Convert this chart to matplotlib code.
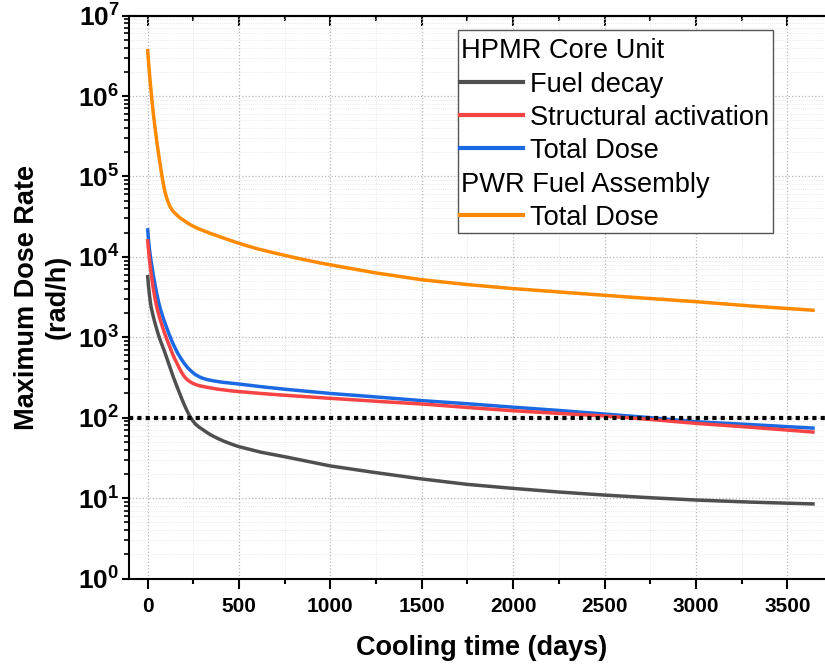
import math
import matplotlib
matplotlib.use("Agg")
import matplotlib.pyplot as plt
from matplotlib.ticker import MultipleLocator, LogLocator, FuncFormatter, NullFormatter
from matplotlib.patches import Rectangle
from matplotlib.lines import Line2D

# ── Fonts ──────────────────────────────────────────────────────────────────────
plt.rcParams.update({
    "font.family":      ["Liberation Sans", "DejaVu Sans"],
    "mathtext.fontset": "custom",
    "mathtext.rm":      "Liberation Sans:bold",
    "mathtext.bf":      "Liberation Sans:bold",
    "mathtext.it":      "Liberation Sans:bold",
})

# ── Data ───────────────────────────────────────────────────────────────────────
hpmr_days = [0, 5, 10, 15, 20, 30, 40, 50, 60, 70, 80, 90, 100, 112, 125, 137,
             150, 162, 175, 187, 200, 215, 230, 245, 260, 280, 300, 325, 350,
             385, 420, 460, 500, 620, 750, 1000, 1250, 1500, 1750, 2000, 2250,
             2500, 2750, 3000, 3300, 3650]
fuel_decay = [5960, 4365, 3390, 2754, 2344, 1862, 1514, 1260, 1060, 912, 794, 692,
              596, 495, 407, 339, 282, 240, 202, 172, 146, 123, 105, 93.3, 84.1,
              76.7, 71.6, 65.3, 60.3, 55, 50.7, 46.8, 43.6, 37.2, 32.7, 25.1,
              20.7, 17.3, 14.8, 13.2, 11.9, 10.9, 10.1, 9.46, 8.91, 8.45]
structural = [16600, 12300, 9330, 7410, 6030, 4170, 3090, 2400, 1950, 1620, 1380,
              1175, 1020, 861, 724, 617, 531, 468, 407, 363, 327, 299, 282, 269,
              260, 251, 245, 239, 233, 226, 221, 215, 211, 200, 190, 174, 160,
              148, 134, 122, 113, 105, 95, 85, 76, 66]
hpmr_total = [22700, 16500, 12600, 10300, 8600, 6200, 4600, 3500, 2750, 2250, 1900,
              1620, 1400, 1180, 990, 850, 740, 650, 580, 525, 475, 430, 395, 368,
              345, 325, 310, 298, 290, 281, 274, 268, 262, 243, 226, 200, 181,
              163, 149, 135, 123, 111, 100, 89, 82, 74]

pwr_days = [0, 5, 10, 15, 22, 30, 40, 49, 60, 70, 77, 85, 95, 104, 115, 125, 140,
            160, 180, 200, 230, 268, 300, 350, 420, 505, 600, 700, 815, 943, 1100,
            1250, 1500, 1750, 2000, 2300, 2600, 3000, 3300, 3650]
pwr_total = [3.85e6, 2.69e6, 1.95e6, 1.445e6, 9.77e5, 6.46e5, 4.17e5, 2.88e5,
             1.905e5, 1.35e5, 1.07e5, 8.32e4, 6.46e4, 5.43e4, 4.62e4, 4.12e4,
             3.67e4, 3.31e4, 3.02e4, 2.82e4, 2.54e4, 2.29e4, 2.14e4, 1.93e4,
             1.70e4, 1.46e4, 1.26e4, 1.11e4, 9.66e3, 8.41e3, 7.24e3, 6.31e3,
             5.19e3, 4.52e3, 4.03e3, 3.59e3, 3.20e3, 2.77e3, 2.45e3, 2.16e3]

limit_dose = 100

COLOURS = {
    "fuel":   "#4f4f4f",
    "struct": "#f64343",
    "total":  "#1b69e2",
    "pwr":    "#ff8a00",
}

# ── Figure ─────────────────────────────────────────────────────────────────────
W, H = 825, 665
fig = plt.figure(figsize=(W / 100, H / 100), dpi=100)
ax_l, ax_r, ax_t, ax_b = 129.3, 833.0, 15.6, 578.5   # pixel box of the axes
ax = fig.add_axes([ax_l / W, 1 - ax_b / H, (ax_r - ax_l) / W, (ax_b - ax_t) / H])

LW = 2.5
line_kw = dict(lw=LW, solid_capstyle="butt", solid_joinstyle="round")
ax.plot(pwr_days, pwr_total, color=COLOURS["pwr"], zorder=3, **line_kw)
ax.plot(hpmr_days, hpmr_total, color=COLOURS["total"], zorder=4, **line_kw)
ax.plot(hpmr_days, structural, color=COLOURS["struct"], zorder=5, **line_kw)
ax.plot(hpmr_days, fuel_decay, color=COLOURS["fuel"], zorder=6, **line_kw)
ax.axhline(limit_dose, color="black", lw=3, linestyle=(0, (1, 1)), zorder=7)

ax.set_yscale("log")
ax.set_ylim(1, 1e7)
ax.set_xlim(-100, 3750)

# ── Ticks & grid ───────────────────────────────────────────────────────────────
ax.xaxis.set_major_locator(MultipleLocator(500))
ax.xaxis.set_minor_locator(MultipleLocator(250))
ax.yaxis.set_major_locator(LogLocator(base=10, numticks=20))
ax.yaxis.set_minor_locator(LogLocator(base=10, subs=range(2, 10), numticks=20))
ax.yaxis.set_minor_formatter(NullFormatter())
ax.yaxis.set_major_formatter(
    FuncFormatter(lambda v, p: r"$\mathbf{10^{%d}}$" % round(math.log10(v))))

ax.tick_params(axis="x", which="major", direction="out", length=7, width=1.5,
               labelsize=15, pad=6)
ax.tick_params(axis="x", which="minor", direction="out", length=3.5, width=1.5)
ax.tick_params(axis="y", which="major", direction="out", length=5, width=1.5,
               labelsize=19, pad=2)
ax.tick_params(axis="y", which="minor", direction="out", length=3.5, width=1.2)
for lab in ax.get_xticklabels():
    lab.set_fontweight("bold")

top = ax.secondary_xaxis("top")
top.xaxis.set_major_locator(MultipleLocator(500))
top.xaxis.set_minor_locator(MultipleLocator(250))
top.tick_params(which="major", direction="in", length=7, width=1.5, labeltop=False)
top.tick_params(which="minor", direction="in", length=3.5, width=1.5)
top.spines["top"].set_linewidth(1.5)

for s in ax.spines.values():
    s.set_linewidth(1.5)

ax.grid(True, which="major", linestyle=":", color="#b8b8b8", lw=0.9)
ax.grid(True, which="minor", linestyle=":", color="#e2e2e2", lw=0.6)
ax.set_axisbelow(True)

# ── Labels ─────────────────────────────────────────────────────────────────────
ax.set_xlabel("Cooling time (days)", fontsize=19.5, fontweight="bold", labelpad=14)
ax.set_ylabel("Maximum Dose Rate\n(rad/h)", fontsize=19.5, fontweight="bold",
              va="center", linespacing=1.25)
ax.yaxis.set_label_coords(-0.124, 0.5)

# ── Legend (drawn by hand: group headers sit flush left like the original) ────
def fx(px):
    return px / W

def fy(py):
    return 1 - py / H

fig.patches.append(Rectangle((fx(458.3), fy(233.3)), fx(773.3) - fx(458.3),
                             fy(30) - fy(233.3), transform=fig.transFigure,
                             facecolor="white", edgecolor="#555555", lw=1.0, zorder=10))
rows = [
    ("HPMR Core Unit", None),
    ("Fuel decay", COLOURS["fuel"]),
    ("Structural activation", COLOURS["struct"]),
    ("Total Dose", COLOURS["total"]),
    ("PWR Fuel Assembly", None),
    ("Total Dose", COLOURS["pwr"]),
]
row_y0, row_step = 48.3, 33.35
for i, (label, colour) in enumerate(rows):
    y = row_y0 + i * row_step
    if colour is None:
        fig.text(fx(460.5), fy(y), label, fontsize=19.6, ha="left",
                 va="center_baseline", zorder=11)
    else:
        fig.lines.append(Line2D([fx(460), fx(523)], [fy(y), fy(y)], color=colour,
                                lw=3, transform=fig.transFigure, zorder=11))
        fig.text(fx(530), fy(y), label, fontsize=19.6, ha="left",
                 va="center_baseline", zorder=11)

fig.savefig("out.png", dpi=100)
